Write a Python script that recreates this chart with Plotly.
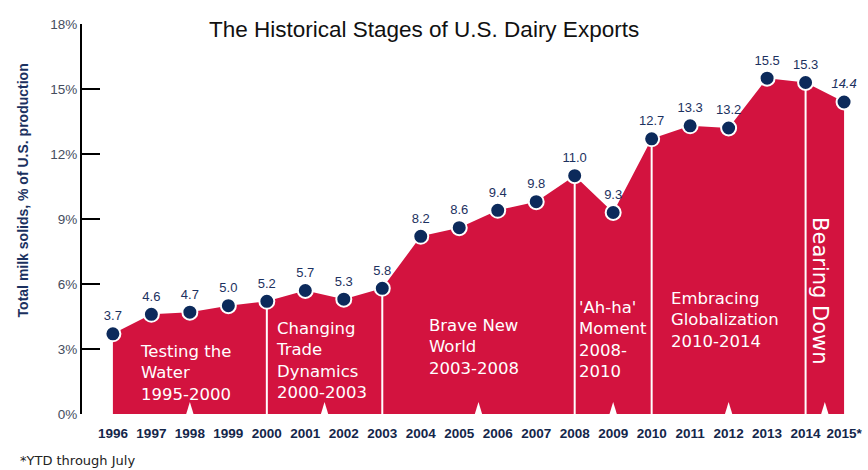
import plotly.graph_objects as go

# ---- data ----
years = [1996, 1997, 1998, 1999, 2000, 2001, 2002, 2003, 2004, 2005,
         2006, 2007, 2008, 2009, 2010, 2011, 2012, 2013, 2014, 2015]
values = [3.7, 4.6, 4.7, 5.0, 5.2, 5.7, 5.3, 5.8, 8.2, 8.6,
          9.4, 9.8, 11.0, 9.3, 12.7, 13.3, 13.2, 15.5, 15.3, 14.4]
tick_labels = [str(y) for y in years[:-1]] + ["2015*"]
stage_bounds = [1996, 2000, 2003, 2008, 2010, 2014, 2015]
stage_names = [
    ["Testing the", "Water", "1995-2000"],
    ["Changing", "Trade", "Dynamics", "2000-2003"],
    ["Brave New", "World", "2003-2008"],
    ["'Ah-ha'", "Moment", "2008-", "2010"],
    ["Embracing", "Globalization", "2010-2014"],
    ["Bearing Down"],
]
y_ticks = [0, 3, 6, 9, 12, 15, 18]
y_tick_labels = [f"{t}%" for t in y_ticks]

# ---- styles / positions ----
RED = "#d3133f"
NAVY = "#0c2a5b"
label_pos = [(1996.70, 1.91), (2000.25, 2.49), (2004.21, 3.11),
             (2008.11, 3.43), (2010.50, 4.33)]

val = dict(zip(years, values))
fig = go.Figure()

fig.add_trace(go.Scatter(
    x=years, y=values, mode="lines", fill="tozeroy",
    fillcolor=RED, line=dict(width=0, color=RED), hoverinfo="skip"))

# white separators at stage boundaries (drawn between fill and markers)
sx, sy = [], []
for b in stage_bounds[1:-1]:
    sx += [b, b, None]
    sy += [0, val[b], None]
fig.add_trace(go.Scatter(x=sx, y=sy, mode="lines",
                         line=dict(color="white", width=2), hoverinfo="skip"))

texts = [f"{v:.1f}" for v in values]
texts[-1] = f"<i>{texts[-1]}</i>"
fig.add_trace(go.Scatter(
    x=years, y=values, mode="markers+text", text=texts,
    textposition="top center",
    textfont=dict(family="Liberation Sans", size=13, color="#1c3160"),
    marker=dict(size=15, color=NAVY, line=dict(color="white", width=2))))

shapes = []
# white notch triangles at mid of each stage
for a, b in zip(stage_bounds[:-1], stage_bounds[1:]):
    m = (a + b) / 2
    hw = 0.095
    h = 0.55
    shapes.append(dict(type="path", xref="x", yref="y",
                       path=f"M {m-hw},0 L {m},{h} L {m+hw},0 Z",
                       fillcolor="white", line=dict(width=0)))

annotations = []
for (lx, ly), lines in zip(label_pos, stage_names[:-1]):
    annotations.append(dict(x=lx, y=ly, xref="x", yref="y", text="<br>".join(lines),
                            showarrow=False, xanchor="left", yanchor="middle",
                            align="left", xshift=-2,
                            font=dict(family="DejaVu Sans", size=16.5, color="white")))
annotations.append(dict(x=2014.38, y=5.71, xref="x", yref="y",
                        text=stage_names[-1][0], textangle=90, showarrow=False,
                        xanchor="center", yanchor="middle",
                        font=dict(family="DejaVu Sans", size=21, color="white")))
annotations.append(dict(x=0.44, y=0.985, xref="paper", yref="paper",
                        text="The Historical Stages of U.S. Dairy Exports",
                        showarrow=False, xanchor="center", yanchor="middle",
                        font=dict(family="Liberation Sans", size=22.5, color="#111111")))
annotations.append(dict(x=-0.0756, y=0.574, xref="paper", yref="paper",
                        text="<b>Total milk solids, % of U.S. production</b>",
                        textangle=-90, showarrow=False, xanchor="center", yanchor="middle",
                        font=dict(family="Liberation Sans", size=14, color="#1b3160")))
annotations.append(dict(x=-0.083, y=-0.118, xref="paper", yref="paper",
                        text="*YTD through July", showarrow=False,
                        xanchor="left", yanchor="middle",
                        font=dict(family="DejaVu Sans", size=13, color="#222222")))

fig.update_layout(
    width=868, height=470,
    margin=dict(l=82, r=6, t=24, b=56),
    paper_bgcolor="white", plot_bgcolor="white",
    showlegend=False,
    shapes=shapes, annotations=annotations,
    xaxis=dict(range=[1995.197, 2015.388], tickvals=years, ticktext=tick_labels,
               showgrid=False, zeroline=False, showline=False, ticks="",
               ticklabelstandoff=9,
               tickfont=dict(family="Liberation Sans", size=13.5, color="#14264a",
                             weight="bold")),
    yaxis=dict(range=[0, 18], tickvals=y_ticks, ticktext=y_tick_labels,
               showgrid=False, zeroline=False, showline=True,
               linecolor="black", linewidth=2,
               ticks="inside", ticklen=18, tickwidth=2, tickcolor="black",
               tickfont=dict(family="Liberation Sans", size=13.5, color="#454d5e")),
)

fig.write_html("out.html", config={"displayModeBar": False},
               post_script="document.body.style.margin='0';document.body.style.overflow='hidden';")
